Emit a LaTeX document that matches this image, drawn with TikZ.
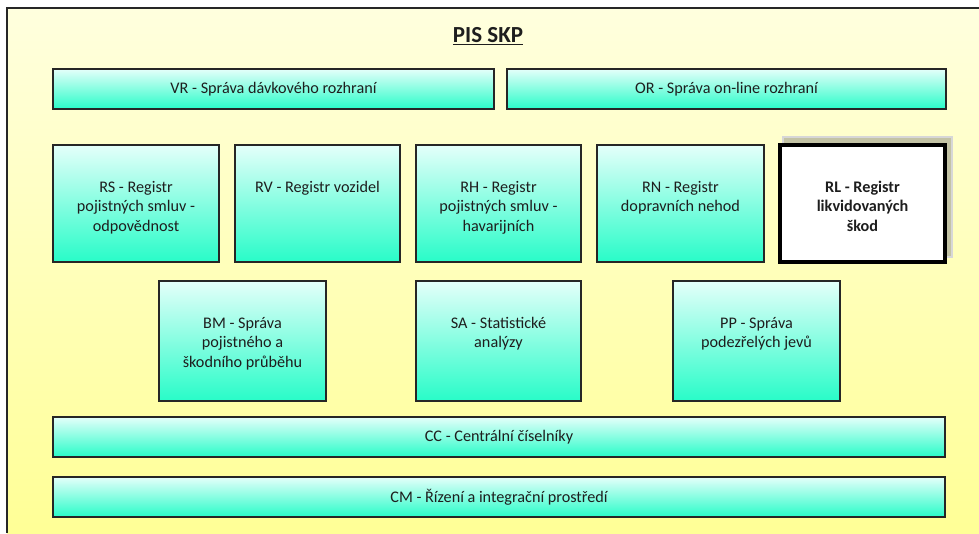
\documentclass[tikz,border=0pt]{standalone}
\usepackage{fontspec}
\setmainfont{Carlito}
\newcommand{\myul}[1]{\vtop{\hbox{#1}\kern1.6pt\hrule height 1.7pt}}
\definecolor{bgtop}{RGB}{255,255,222}
\definecolor{bgbot}{RGB}{255,255,150}
\definecolor{bxtop}{RGB}{228,255,250}
\definecolor{bxbot}{RGB}{40,252,200}
\definecolor{txt}{RGB}{30,30,30}
\definecolor{shad}{RGB}{195,195,165}
\definecolor{shadline}{RGB}{215,215,215}
\newcommand{\bx}[3]{\parbox[t][#2pt][t]{#1pt}{\centering\rule{0pt}{47pt}#3}}
\tikzset{
  box/.style={draw=black!85, line width=1.3pt, top color=bxtop, bottom color=bxbot,
    inner sep=0pt, outer sep=0pt, text=txt, font=\fontsize{16.2}{19.8}\selectfont, anchor=north west},
  wide/.style={box, minimum height=40pt, minimum width=#1pt},
  rlbox/.style={draw=black, line width=4pt, fill=white, inner sep=0pt, outer sep=0pt,
    text=txt, font=\fontsize{16.2}{19.8}\selectfont\bfseries, anchor=north west},
  frame/.style={draw=black!85, line width=2pt}
}
\begin{document}
\begin{tikzpicture}[x=1pt,y=-1pt]
\useasboundingbox (0,0) rectangle (979,533);
\fill[top color=bgtop, bottom color=bgbot] (7,8) rectangle (979,533);
\draw[frame] (7,533) -- (7,8) -- (979,8);
\node[anchor=base, text=txt, font=\fontsize{23}{27}\selectfont\bfseries] (title) at (488,42) {\myul{PIS SKP}};
% top row
\node[wide=441] (vr) at (53,69) {VR - Správa dávkového rozhraní};
\node[wide=439] (or) at (507,69) {OR - Správa on-line rozhraní};
% second row
\node[box] (rs) at (53,145) {\bx{166}{117}{RS - Registr\\pojistných smluv -\\odpovědnost}};
\node[box] (rv) at (235,145) {\bx{165}{117}{RV - Registr vozidel}};
\node[box] (rh) at (416,145) {\bx{165}{117}{RH - Registr\\pojistných smluv -\\havarijních}};
\node[box] (rn) at (597,145) {\bx{167}{117}{RN - Registr\\dopravních nehod}};
\fill[shad, draw=shadline, line width=1.5pt] (783,137) rectangle (952,257);
\node[rlbox] (rl) at (780,145) {\bx{165}{117}{RL - Registr\\likvidovaných\\škod}};
% third row
\node[box] (bm) at (159,281) {\bx{167}{120}{BM - Správa\\pojistného a\\škodního průběhu}};
\node[box] (sa) at (416,281) {\bx{165}{120}{SA - Statistické\\analýzy}};
\node[box] (pp) at (673,281) {\bx{167}{120}{PP - Správa\\podezřelých jevů}};
% bottom rows
\node[wide=892] (cc) at (53,417) {CC - Centrální číselníky};
\node[wide=892] (cm) at (53,477) {CM - Řízení a integrační prostředí};
\end{tikzpicture}
\end{document}
